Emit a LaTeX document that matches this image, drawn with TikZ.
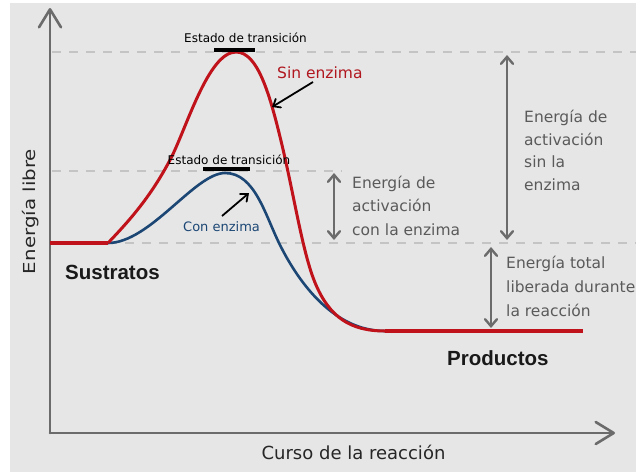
\documentclass[tikz,border=0pt]{standalone}
\usepackage{fontspec}
\setmainfont{DejaVu Sans}
\newfontfamily\boldsans{Liberation Sans}
\usetikzlibrary{arrows.meta}
\definecolor{bg}{HTML}{E6E6E6}
\definecolor{axisgray}{HTML}{6B6B6B}
\definecolor{txtgray}{HTML}{5A5A5A}
\definecolor{dashgray}{HTML}{C4C4C4}
\definecolor{curvered}{HTML}{C0121A}
\definecolor{curveblue}{HTML}{1C4775}
\definecolor{labelred}{HTML}{B0171F}
\tikzset{
  axisline/.style={draw=axisgray, line width=2.6pt, line cap=round,
    -{Straight Barb[length=18pt,width=22pt,line cap=round,line join=round]}},
  levelline/.style={draw=dashgray, line width=1.4pt, dash pattern=on 9pt off 8pt},
  dblarrow/.style={draw=axisgray, line width=2.4pt,
    {Straight Barb[length=7pt,width=12pt,line cap=round]}-{Straight Barb[length=7pt,width=12pt,line cap=round]}},
  callout/.style={draw=black, line width=1.8pt,
    -{Straight Barb[length=6pt,width=10pt,line cap=round]}},
  tsbar/.style={draw=black, line width=3.5pt},
  redcurve/.style={draw=curvered, line width=3pt, line join=round},
  bluecurve/.style={draw=curveblue, line width=2.6pt, line join=round},
  lbl/.style={font=\fontsize{15.5}{18}\selectfont, text=txtgray, inner sep=0pt, anchor=base west},
  tslbl/.style={font=\fontsize{12}{14}\selectfont, text=black, inner sep=0pt, anchor=base},
  bigbold/.style={font=\boldsans\bfseries\fontsize{20.5}{24}\selectfont, text=black!90, inner sep=0pt, anchor=base west},
}
\begin{document}
\begin{tikzpicture}[x=1pt,y=-1pt]
\useasboundingbox (0,0) rectangle (636,472);
\fill[white] (0,0) rectangle (636,472);
\fill[bg] (10,3) rectangle (636,472);

% coordinates
\coordinate (origin) at (50,433);
\coordinate (ytip) at (50,8);
\coordinate (xtip) at (615,433);

% dashed reference levels
\coordinate (d1a) at (52,52);  \coordinate (d1b) at (636,52);
\coordinate (d2a) at (52,171); \coordinate (d2b) at (342,171);
\coordinate (d3a) at (108,243); \coordinate (d3b) at (636,243);
\draw[levelline] (d1a) -- (d1b);
\draw[levelline] (d2a) -- (d2b);
\draw[levelline] (d3a) -- (d3b);

% axes
\draw[axisline] (origin) -- (ytip);
\draw[axisline] (origin) -- (xtip);

% curves
\coordinate (subA) at (50,243);
\coordinate (subB) at (108,243);
\coordinate (prodA) at (385,331);
\coordinate (prodB) at (583,331);
\coordinate (bluepeak) at (225,173);
\coordinate (redpeak) at (236,52);
\draw[bluecurve] (subB) .. controls (150,243) and (195,173) .. (bluepeak)
  .. controls (255,173) and (265,215) .. (280,245)
  .. controls (300,285) and (335,331) .. (prodA);
\draw[redcurve] (subB) .. controls (128,222) and (150,198) .. (170,160)
  .. controls (186,130) and (208,52) .. (redpeak)
  .. controls (258,52) and (270,95) .. (282,145)
  .. controls (295,200) and (303,255) .. (316,285)
  .. controls (330,317) and (350,331) .. (prodA);
\draw[draw=curvered, line width=3.6pt] (subA) -- (subB);
\draw[draw=curvered, line width=3.6pt] (prodA) -- (prodB);

% transition state bars and labels
\coordinate (b1a) at (214,50); \coordinate (b1b) at (255,50);
\coordinate (b2a) at (203,169); \coordinate (b2b) at (250,169);
\draw[tsbar] (b1a) -- (b1b);
\draw[tsbar] (b2a) -- (b2b);
\node[tslbl] (ts1) at (245.5,42) {Estado de transición};
\node[tslbl] (ts2) at (229,164) {Estado de transición};

% curve labels
\node[font=\fontsize{15.5}{18}\selectfont, text=labelred, inner sep=0pt, anchor=base west] (sin) at (277,78) {Sin enzima};
\node[font=\fontsize{13}{15}\selectfont, text=curveblue, inner sep=0pt, anchor=base west] (con) at (183,231) {Con enzima};
\coordinate (sinfrom) at (313,82);
\coordinate (sinto) at (272,107);
\coordinate (confrom) at (222,216);
\coordinate (conto) at (249,193);
\draw[callout] (sinfrom) -- (sinto);
\draw[callout] (confrom) -- (conto);

% energy arrows
\coordinate (e1t) at (334,173); \coordinate (e1b) at (334,240);
\coordinate (e2t) at (507,55);  \coordinate (e2b) at (507,240);
\coordinate (e3t) at (491,247); \coordinate (e3b) at (491,328);
\draw[dblarrow] (e1t) -- (e1b);
\draw[dblarrow] (e2t) -- (e2b);
\draw[dblarrow] (e3t) -- (e3b);

\node[lbl] (c1) at (352,188) {Energía de};
\node[lbl] (c2) at (352,211.5) {activación};
\node[lbl] (c3) at (352,235) {con la enzima};

\node[lbl] (s1) at (524,122) {Energía de};
\node[lbl] (s2) at (524,145) {activación};
\node[lbl] (s3) at (524,167.5) {sin la};
\node[lbl] (s4) at (524,190) {enzima};

\node[lbl] (t1) at (506,268) {Energía total};
\node[lbl] (t2) at (506,292) {liberada durante};
\node[lbl] (t3) at (506,316) {la reacción};

% state labels
\node[bigbold] (sus) at (65,279) {Sustratos};
\node[bigbold] (pro) at (447,365) {Productos};

% axis labels
\node[font=\fontsize{16.5}{19}\selectfont, text=black!85, inner sep=0pt, anchor=base, rotate=90, xscale=1.2] (ylab) at (35,211.5) {Energía libre};
\node[font=\fontsize{18}{21}\selectfont, text=black!85, inner sep=0pt, anchor=base] (xlab) at (353.5,459) {Curso de la reacción};
\end{tikzpicture}
\end{document}
